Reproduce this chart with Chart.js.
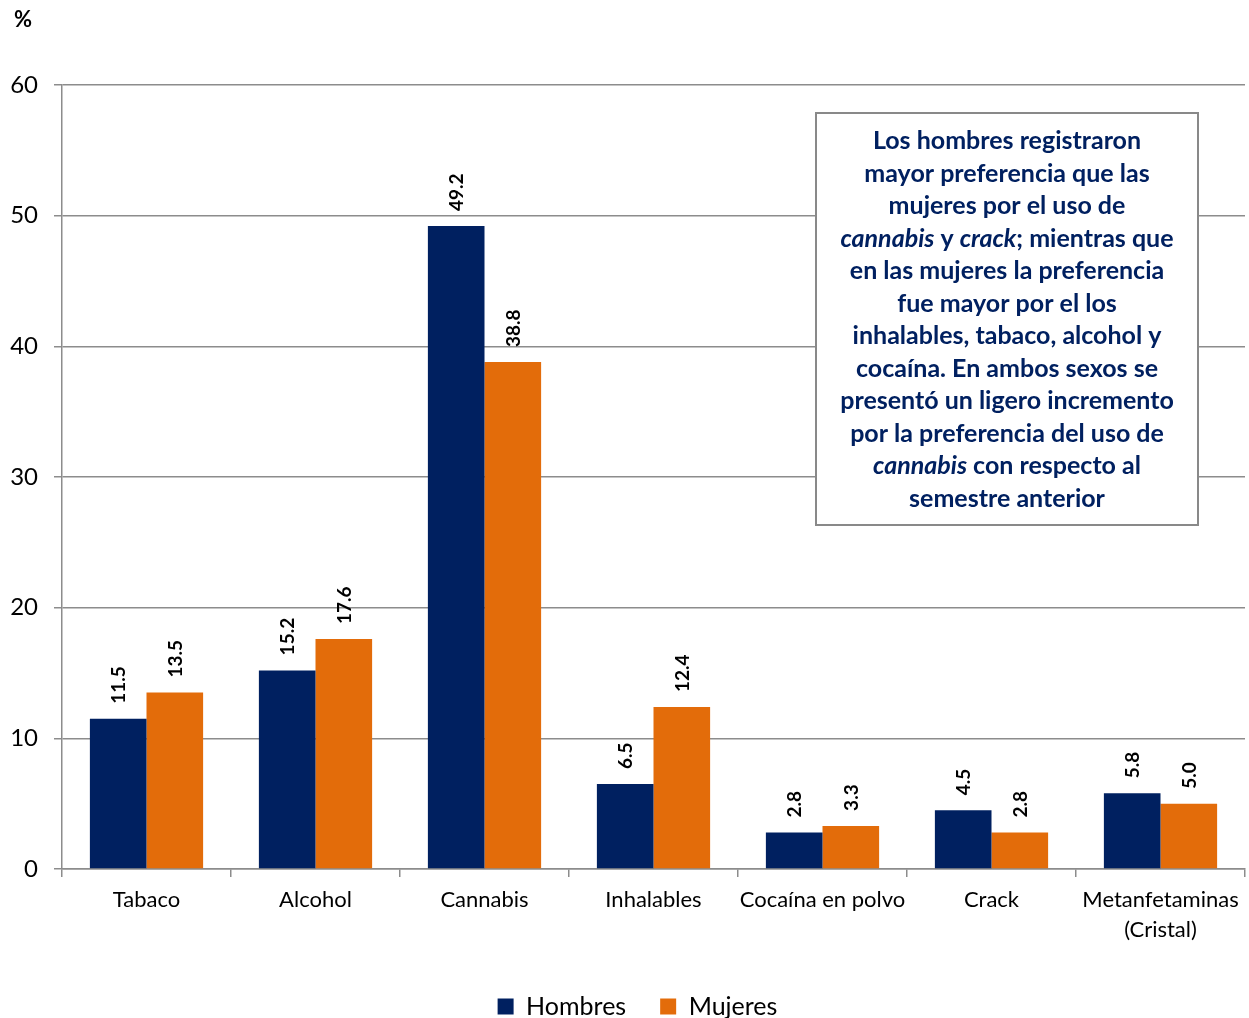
<!DOCTYPE html>
<html>
<head>
<meta charset="utf-8">
<script src="https://cdn.jsdelivr.net/npm/chart.js@4.4.0/dist/chart.umd.min.js"></script>
<style>
  html, body { margin: 0; padding: 0; background: #fff; overflow: hidden; }
  #wrap { width: 1249px; height: 1018px; position: relative; overflow: hidden; }
</style>
</head>
<body>
<div id="wrap"><canvas id="grafica" width="1249" height="1029"></canvas></div>
<script>
// datos
const categorias = ["Tabaco", "Alcohol", "Cannabis", "Inhalables", "Cocaína en polvo", "Crack", ["Metanfetaminas", "(Cristal)"]];
const hombres = [11.5, 15.2, 49.2, 6.5, 2.8, 4.5, 5.8];
const mujeres = [13.5, 17.6, 38.8, 12.4, 3.3, 2.8, 5.0];
const ejeY = { min: 0, max: 60, paso: 10 };

// texto del recuadro (segmentos: [texto, cursiva])
const recuadro = [
  [["Los hombres registraron", false]],
  [["mayor preferencia que las", false]],
  [["mujeres por el uso de", false]],
  [["cannabis", true], [" y ", false], ["crack", true], ["; mientras que", false]],
  [["en las mujeres la preferencia", false]],
  [["fue mayor por el los", false]],
  [["inhalables, tabaco, alcohol y", false]],
  [["cocaína. En ambos sexos se", false]],
  [["presentó un ligero incremento", false]],
  [["por la preferencia del uso de", false]],
  [["cannabis", true], [" con respecto al", false]],
  [["semestre anterior", false]]
];

const AZUL = "#002060";
const NARANJA = "#E36C0A";
const GRIS = "#8c8c8c";
const FUENTE = "Lato, 'Open Sans', sans-serif";

// etiquetas de valor giradas encima de cada barra
const etiquetas = {
  id: "etiquetas",
  afterDatasetsDraw(chart) {
    const ctx = chart.ctx;
    ctx.save();
    ctx.font = "bold 19px " + FUENTE;
    ctx.fillStyle = "#000";
    ctx.textAlign = "left";
    ctx.textBaseline = "middle";
    chart.data.datasets.forEach((ds, i) => {
      chart.getDatasetMeta(i).data.forEach((bar, j) => {
        ctx.save();
        ctx.translate(bar.x + 1, bar.y - 15);
        ctx.rotate(-Math.PI / 2);
        ctx.fillText(ds.data[j].toFixed(1), 0, 0);
        ctx.restore();
      });
    });
    ctx.restore();
  }
};

// leyenda un poco desplazada a la derecha, como en el original
const moverLeyenda = {
  id: "moverLeyenda",
  afterLayout(chart) {
    chart.legend.left += 15;
    chart.legend.right += 15;
  }
};

// recuadro de texto y simbolo %
const notas = {
  id: "notas",
  afterDraw(chart) {
    const ctx = chart.ctx;
    ctx.save();
    ctx.font = "bold 22px " + FUENTE;
    ctx.fillStyle = "#000";
    ctx.textBaseline = "middle";
    ctx.fillText("%", 14, 20);

    const x0 = 816, y0 = 113, w = 382, h = 412;
    ctx.fillStyle = "#fff";
    ctx.fillRect(x0, y0, w, h);
    ctx.strokeStyle = "#898989";
    ctx.lineWidth = 2;
    ctx.strokeRect(x0, y0, w, h);

    ctx.fillStyle = AZUL;
    ctx.textBaseline = "middle";
    const cx = x0 + w / 2;
    recuadro.forEach((linea, k) => {
      const y = 141 + k * 32.5;
      let total = 0;
      linea.forEach(s => {
        ctx.font = (s[1] ? "italic " : "") + "bold 25px " + FUENTE;
        total += ctx.measureText(s[0]).width;
      });
      let x = cx - total / 2;
      ctx.textAlign = "left";
      linea.forEach(s => {
        ctx.font = (s[1] ? "italic " : "") + "bold 25px " + FUENTE;
        ctx.fillText(s[0], x, y);
        x += ctx.measureText(s[0]).width;
      });
    });
    ctx.restore();
  }
};

new Chart(document.getElementById("grafica"), {
  type: "bar",
  data: {
    labels: categorias,
    datasets: [
      { label: "Hombres", data: hombres, backgroundColor: AZUL },
      { label: "Mujeres", data: mujeres, backgroundColor: NARANJA }
    ]
  },
  options: {
    responsive: false,
    animation: false,
    devicePixelRatio: 1,
    layout: { padding: { top: 85, right: 4, left: 0, bottom: 0 } },
    datasets: { bar: { categoryPercentage: 0.67, barPercentage: 1.0 } },
    plugins: {
      legend: {
        position: "bottom",
        labels: {
          font: { family: FUENTE, size: 25 },
          color: "#000",
          boxWidth: 16,
          boxHeight: 16,
          padding: 34
        }
      },
      tooltip: { enabled: false }
    },
    scales: {
      x: {
        grid: { drawOnChartArea: false, drawTicks: true, tickLength: 8, color: GRIS, lineWidth: 1.5 },
        border: { color: GRIS, width: 1.5 },
        ticks: { color: "#000", font: { family: FUENTE, size: 22, lineHeight: 1.36 }, padding: 8, maxRotation: 0, autoSkip: false },
        afterFit(scale) { scale.height = 91; }
      },
      y: {
        min: ejeY.min,
        max: ejeY.max,
        ticks: { stepSize: ejeY.paso, color: "#000", font: { family: FUENTE, size: 24 }, padding: 16 },
        grid: { color: GRIS, lineWidth: 1.5, tickLength: 8 },
        border: { color: GRIS, width: 1.5 },
        afterFit(scale) { scale.width = 62; }
      }
    }
  },
  plugins: [etiquetas, moverLeyenda, notas]
});
</script>
</body>
</html>
